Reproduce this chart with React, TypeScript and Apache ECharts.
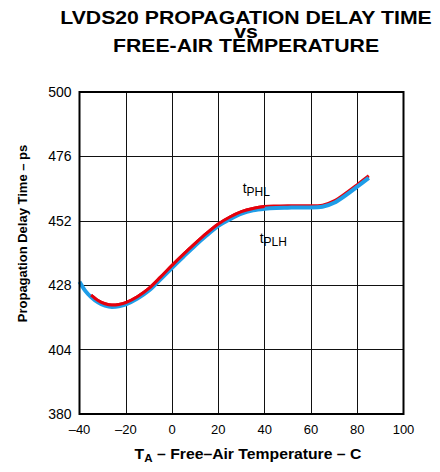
import React, { useEffect, useRef } from "react";
import * as echarts from "echarts";

// Temperature (°C) and delay (ps)
const TEMPS_PLH = [-40, -37.5, -35, -32, -29, -26, -23, -20, -15, -10, -5, 0, 5, 10, 15, 20, 25, 30, 35, 40, 45, 50, 55, 60, 65, 70, 75, 80, 85];
const DELAY_PLH = [429.3, 425.9, 423.6, 421.6, 420.4, 419.9, 420.1, 420.8, 423.0, 426.0, 430.2, 434.5, 438.7, 442.8, 446.6, 450.1, 452.6, 454.7, 455.9, 456.5, 456.8, 456.9, 457.0, 457.0, 457.2, 458.7, 461.5, 464.7, 468.0];

const TEMPS_PHL = [-35, -32, -29, -26, -23, -20, -15, -10, -5, 0, 5, 10, 15, 20, 25, 30, 35, 40, 45, 50, 55, 60, 65, 70, 75, 80, 85];
const DELAY_PHL = [424.3, 422.3, 421.1, 420.6, 420.8, 421.5, 423.7, 426.8, 431.0, 435.4, 439.6, 443.6, 447.4, 450.8, 453.4, 455.4, 456.6, 457.3, 457.5, 457.6, 457.6, 457.6, 457.8, 459.4, 462.3, 465.5, 468.8];

const X_MIN = -40;
const X_MAX = 100;
const X_STEP = 20;
const Y_MIN = 380; // tick labels 380, 404, 428, 452, 476, 500
const Y_MAX = 500;
const Y_STEP = 24;

const TITLE = "LVDS20 PROPAGATION DELAY TIME\nvs\nFREE-AIR TEMPERATURE";
const X_NAME = "{a|T}{b|A}{a| \u2013 Free\u2013Air Temperature \u2013 C}";
const Y_NAME = "Propagation Delay Time \u2013 ps";

const BLUE = "#1e9de8";
const RED = "#e4000c";
const FONT = "'Liberation Sans', Arial, Helvetica, sans-serif";

export default function App() {
  const ref = useRef<HTMLDivElement>(null);

  useEffect(() => {
    if (!ref.current) return;
    document.body.style.margin = "0";
    const chart = echarts.init(ref.current, undefined, { renderer: "svg" });

    const plh = TEMPS_PLH.map((t, i) => [t, DELAY_PLH[i] - Y_MIN]);
    const phl = TEMPS_PHL.map((t, i) => [t, DELAY_PHL[i] - Y_MIN]);
    const phlTop = phl.filter((p) => p[0] <= 40);

    chart.setOption({
      animation: false,
      textStyle: { fontFamily: FONT },
      grid: {
        left: 79.5,
        right: 36.5,
        top: 92,
        bottom: 58,
        show: true,
        borderColor: "#000",
        borderWidth: 2,
        backgroundColor: "transparent",
        z: 3,
      },
      xAxis: {
        type: "value",
        min: X_MIN,
        max: X_MAX,
        interval: X_STEP,
        axisLine: { show: false },
        axisTick: { show: false },
        splitLine: { show: true, lineStyle: { color: "#111", width: 1 } },
        axisLabel: {
          color: "#000",
          fontSize: 13,
          fontFamily: FONT,
          margin: 9,
          formatter: (v: number) => (v < 0 ? "\u2013" + Math.abs(v) : String(v)),
        },
      },
      yAxis: {
        type: "value",
        min: 0,
        max: Y_MAX - Y_MIN,
        interval: Y_STEP,
        axisLine: { show: false },
        axisTick: { show: false },
        splitLine: { show: true, lineStyle: { color: "#111", width: 1 } },
        axisLabel: {
          color: "#000",
          fontSize: 14,
          fontFamily: FONT,
          margin: 8,
          formatter: (v: number) => String(v + Y_MIN),
        },
      },
      series: [
        {
          type: "line",
          data: phl,
          smooth: 0.3,
          showSymbol: false,
          lineStyle: { color: RED, width: 3 },
          z: 2,
          silent: true,
        },
        {
          type: "line",
          data: plh,
          smooth: 0.3,
          showSymbol: false,
          lineStyle: { color: BLUE, width: 4 },
          z: 2,
          silent: true,
        },
        {
          type: "line",
          data: phlTop,
          smooth: 0.3,
          showSymbol: false,
          lineStyle: { color: RED, width: 3 },
          z: 2,
          silent: true,
        },
      ],
    });

    const anchor = chart.convertToPixel({ gridIndex: 0 }, [40, 457 - Y_MIN]) as number[];
    const subRich = {
      t: { fontSize: 14, fontFamily: FONT, color: "#000", lineHeight: 20, verticalAlign: "middle" },
      s: { fontSize: 12, fontFamily: FONT, color: "#000", lineHeight: 12, verticalAlign: "bottom" },
    };

    chart.setOption({
      graphic: [
        {
          type: "text",
          x: 246,
          y: 11,
          scaleX: 1.18,
          style: {
            text: TITLE,
            font: `bold 18px ${FONT}`,
            lineHeight: 13.75,
            fill: "#000",
            align: "center",
            verticalAlign: "top",
          },
        },
        {
          type: "text",
          x: 22,
          y: 233.5,
          rotation: Math.PI / 2,
          style: {
            text: Y_NAME,
            font: `bold 13px ${FONT}`,
            fill: "#000",
            align: "center",
            verticalAlign: "middle",
          },
        },
        {
          type: "text",
          x: 248,
          y: 454,
          scaleX: 1.05,
          style: {
            text: X_NAME,
            align: "center",
            verticalAlign: "middle",
            rich: {
              a: { font: `bold 15px ${FONT}`, fill: "#000", lineHeight: 20, verticalAlign: "middle" },
              b: { font: `bold 11px ${FONT}`, fill: "#000", lineHeight: 11, verticalAlign: "bottom" },
            },
          },
        },
        {
          type: "text",
          x: anchor[0] - 22,
          y: anchor[1] - 19.5,
          style: {
            text: "{t|t}{s|PHL}",
            align: "left",
            verticalAlign: "middle",
            rich: subRich,
          },
        },
        {
          type: "text",
          x: anchor[0] - 5,
          y: anchor[1] + 30.5,
          style: {
            text: "{t|t}{s|PLH}",
            align: "left",
            verticalAlign: "middle",
            rich: subRich,
          },
        },
      ],
    });

    return () => chart.dispose();
  }, []);

  return <div ref={ref} style={{ width: 440, height: 472 }} />;
}
